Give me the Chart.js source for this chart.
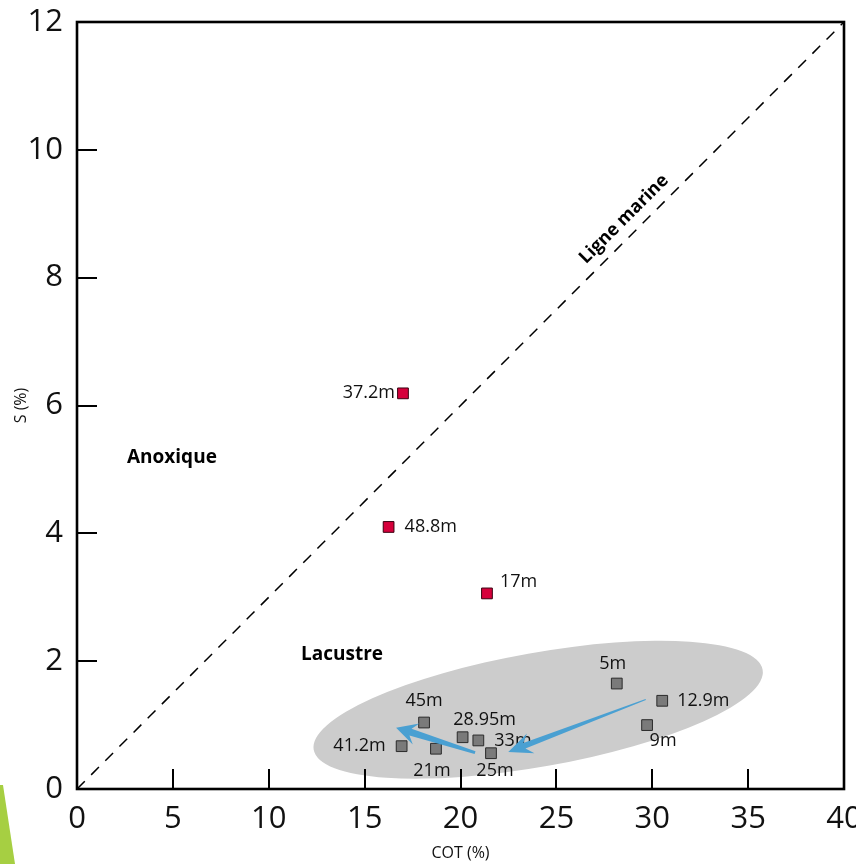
<!DOCTYPE html>
<html>
<head>
<meta charset="utf-8">
<script src="https://cdn.jsdelivr.net/npm/chart.js@4.4.1/dist/chart.umd.min.js"></script>
<style>
  html, body { margin: 0; padding: 0; background: #ffffff; }
  #wrap { width: 856px; height: 864px; position: relative; }
</style>
</head>
<body>
<div id="wrap"><canvas id="c" width="856" height="864"></canvas></div>
<script>
// ---------- data ----------
const xTicks = [0, 5, 10, 15, 20, 25, 30, 35, 40];
const yTicks = [0, 2, 4, 6, 8, 10, 12];

// red samples (above / near marine line)
const redCOT = [17.0, 16.25, 21.38];
const redS   = [6.19, 4.10, 3.06];
const redLabels = ['37.2m', '48.8m', '17m'];

// grey samples (lacustrine cluster)
const greyCOT = [28.15, 30.52, 29.73, 18.10, 20.11, 20.93, 21.59, 18.72, 16.93];
const greyS   = [1.65, 1.38, 1.00, 1.04, 0.81, 0.76, 0.56, 0.63, 0.67];
const greyLabels = ['5m', '12.9m', '9m', '45m', '28.95m', '33m', '25m', '21m', '41.2m'];

// marine line (S/COT reference)
const marineCOT = [0, 40];
const marineS   = [0, 12];

// trend arrows (COT, S) : from -> to
const arrowFromCOT = [29.66, 20.76];
const arrowFromS   = [1.40, 0.57];
const arrowToCOT   = [22.49, 16.64];
const arrowToS     = [0.58, 0.96];

// zone labels
const zoneTexts = ['Anoxique', 'Lacustre'];
const zoneCOT = [4.95, 13.82];
const zoneS   = [5.18, 2.10];

// ellipse center (COT, S)
const ellipseCOT = 24.05;
const ellipseS = 1.24;

// ---------- styles / placements ----------
const FONT = '"Open Sans", "Noto Sans", "DejaVu Sans", sans-serif';
const redPlace = [
  { align: 'right', dx: -8, dy: 0 },
  { align: 'left', dx: 16, dy: 0 },
  { align: 'left', dx: 13, dy: -12 }
];
const greyPlace = [
  { align: 'center', dx: -4, dy: -20 },
  { align: 'left', dx: 15, dy: 0 },
  { align: 'center', dx: 16, dy: 16 },
  { align: 'center', dx: 0, dy: -22 },
  { align: 'center', dx: 22, dy: -17 },
  { align: 'left', dx: 16, dy: 0 },
  { align: 'center', dx: 4, dy: 18 },
  { align: 'center', dx: -4, dy: 22 },
  { align: 'right', dx: -16, dy: 0 }
];
const arrowStyle = [
  { tail: 1, shaft: 6, headLen: 24, headW: 21 },
  { tail: 3, shaft: 7, headLen: 21, headW: 22 }
];

function pts(xs, ys) { return xs.map((x, i) => ({ x: x, y: ys[i] })); }

// ---------- plugins ----------
const ellipsePlugin = {
  id: 'ellipse',
  beforeDatasetsDraw(chart) {
    const { ctx, scales: { x, y } } = chart;
    const cx = x.getPixelForValue(ellipseCOT), cy = y.getPixelForValue(ellipseS);
    ctx.save();
    ctx.fillStyle = '#cccccc';
    ctx.beginPath();
    ctx.ellipse(cx, cy, 228, 57, -10.1 * Math.PI / 180, 0, Math.PI * 2);
    ctx.fill();
    ctx.restore();
  }
};

const framePlugin = {
  id: 'frame',
  afterDraw(chart) {
    const { ctx, chartArea: a, scales: { x, y } } = chart;
    ctx.save();
    ctx.strokeStyle = '#000';
    ctx.lineWidth = 2;
    ctx.beginPath();
    xTicks.forEach(v => {
      const px = Math.round(x.getPixelForValue(v));
      ctx.moveTo(px, a.bottom); ctx.lineTo(px, a.bottom - 20);
    });
    yTicks.forEach(v => {
      const py = Math.round(y.getPixelForValue(v));
      ctx.moveTo(a.left, py); ctx.lineTo(a.left + 20, py);
    });
    ctx.stroke();
    ctx.lineWidth = 2.6;
    ctx.strokeRect(a.left, a.top, a.right - a.left, a.bottom - a.top);
    // decorative green sliver at bottom-left of the page
    ctx.fillStyle = '#a6cf42';
    ctx.beginPath();
    ctx.moveTo(0, 785); ctx.lineTo(3, 785); ctx.lineTo(15, 864); ctx.lineTo(0, 864);
    ctx.closePath(); ctx.fill();
    ctx.restore();
  }
};

const labelPlugin = {
  id: 'labels',
  afterDatasetsDraw(chart) {
    const { ctx, scales: { x, y } } = chart;
    ctx.save();
    ctx.fillStyle = '#111';
    ctx.textBaseline = 'middle';
    ctx.font = '18px ' + FONT;
    const put = (xs, ys, labels, place) => {
      labels.forEach((t, i) => {
        const px = x.getPixelForValue(xs[i]), py = y.getPixelForValue(ys[i]);
        ctx.textAlign = place[i].align;
        ctx.fillText(t, px + place[i].dx, py + place[i].dy);
      });
    };
    put(redCOT, redS, redLabels, redPlace);
    put(greyCOT, greyS, greyLabels, greyPlace);

    // zone labels
    ctx.fillStyle = '#000';
    ctx.font = 'bold 19px ' + FONT;
    ctx.textAlign = 'center';
    zoneTexts.forEach((t, i) => {
      ctx.fillText(t, x.getPixelForValue(zoneCOT[i]), y.getPixelForValue(zoneS[i]));
    });

    // marine line label, rotated along the line
    const x0 = x.getPixelForValue(marineCOT[0]), y0 = y.getPixelForValue(marineS[0]);
    const x1 = x.getPixelForValue(marineCOT[1]), y1 = y.getPixelForValue(marineS[1]);
    const ang = Math.atan2(y1 - y0, x1 - x0);
    const t = 0.728;
    const mx = x0 + (x1 - x0) * t, my = y0 + (y1 - y0) * t;
    ctx.translate(mx, my);
    ctx.rotate(ang);
    ctx.font = 'bold 18px ' + FONT;
    ctx.textBaseline = 'alphabetic';
    ctx.fillText('Ligne marine', 0, -11);
    ctx.restore();

    // arrows
    ctx.save();
    ctx.fillStyle = '#4aa0d2';
    arrowFromCOT.forEach((_, i) => {
      const tx = x.getPixelForValue(arrowFromCOT[i]), ty = y.getPixelForValue(arrowFromS[i]);
      const hx = x.getPixelForValue(arrowToCOT[i]), hy = y.getPixelForValue(arrowToS[i]);
      const len = Math.hypot(hx - tx, hy - ty);
      const ux = (hx - tx) / len, uy = (hy - ty) / len;
      const nx = -uy, ny = ux;
      const s = arrowStyle[i];
      const bx = hx - ux * s.headLen, by = hy - uy * s.headLen;
      const jx = hx - ux * s.headLen * 0.72, jy = hy - uy * s.headLen * 0.72;
      ctx.beginPath();
      ctx.moveTo(tx + nx * s.tail / 2, ty + ny * s.tail / 2);
      ctx.lineTo(jx + nx * s.shaft / 2, jy + ny * s.shaft / 2);
      ctx.lineTo(bx + nx * s.headW / 2, by + ny * s.headW / 2);
      ctx.lineTo(hx, hy);
      ctx.lineTo(bx - nx * s.headW / 2, by - ny * s.headW / 2);
      ctx.lineTo(jx - nx * s.shaft / 2, jy - ny * s.shaft / 2);
      ctx.lineTo(tx - nx * s.tail / 2, ty - ny * s.tail / 2);
      ctx.closePath();
      ctx.fill();
    });
    ctx.restore();
  }
};

// ---------- chart ----------
new Chart(document.getElementById('c'), {
  type: 'scatter',
  data: {
    datasets: [
      {
        type: 'line',
        label: 'Ligne marine',
        data: pts(marineCOT, marineS),
        borderColor: '#000',
        borderWidth: 1.5,
        borderDash: [11, 9],
        pointRadius: 0,
        fill: false
      },
      {
        label: 'rouge',
        data: pts(redCOT, redS),
        pointStyle: 'rect',
        pointRadius: 7.6,
        backgroundColor: '#d6003b',
        borderColor: '#3a0010',
        borderWidth: 1
      },
      {
        label: 'gris',
        data: pts(greyCOT, greyS),
        pointStyle: 'rect',
        pointRadius: 7.6,
        backgroundColor: '#7a7a7a',
        borderColor: '#2a2a2a',
        borderWidth: 1
      }
    ]
  },
  options: {
    responsive: false,
    animation: false,
    layout: { padding: { top: 22, right: 12, left: 0, bottom: 0 } },
    plugins: { legend: { display: false }, tooltip: { enabled: false } },
    scales: {
      x: {
        type: 'linear',
        min: 0, max: 40,
        afterBuildTicks(s) { s.ticks = xTicks.map(v => ({ value: v })); },
        afterFit(s) { s.height = 75; s.paddingLeft = 0; s.paddingRight = 0; },
        grid: { display: false, drawTicks: false },
        border: { display: false },
        ticks: { font: { size: 31, family: FONT }, color: '#111', padding: 12, maxRotation: 0, autoSkip: false },
        title: { display: true, text: 'COT (%)', font: { size: 16, family: FONT }, color: '#111', padding: { top: 0, bottom: 1 } }
      },
      y: {
        type: 'linear',
        min: 0, max: 12,
        afterBuildTicks(s) { s.ticks = yTicks.map(v => ({ value: v })); },
        afterFit(s) { s.width = 77; s.paddingTop = 0; s.paddingBottom = 0; },
        grid: { display: false, drawTicks: false },
        border: { display: false },
        ticks: { font: { size: 31, family: FONT }, color: '#111', padding: 14, autoSkip: false },
        title: { display: true, text: 'S (%)', font: { size: 16, family: FONT }, color: '#111', padding: { top: 12, bottom: 0 } }
      }
    }
  },
  plugins: [ellipsePlugin, labelPlugin, framePlugin]
});
</script>
</body>
</html>
